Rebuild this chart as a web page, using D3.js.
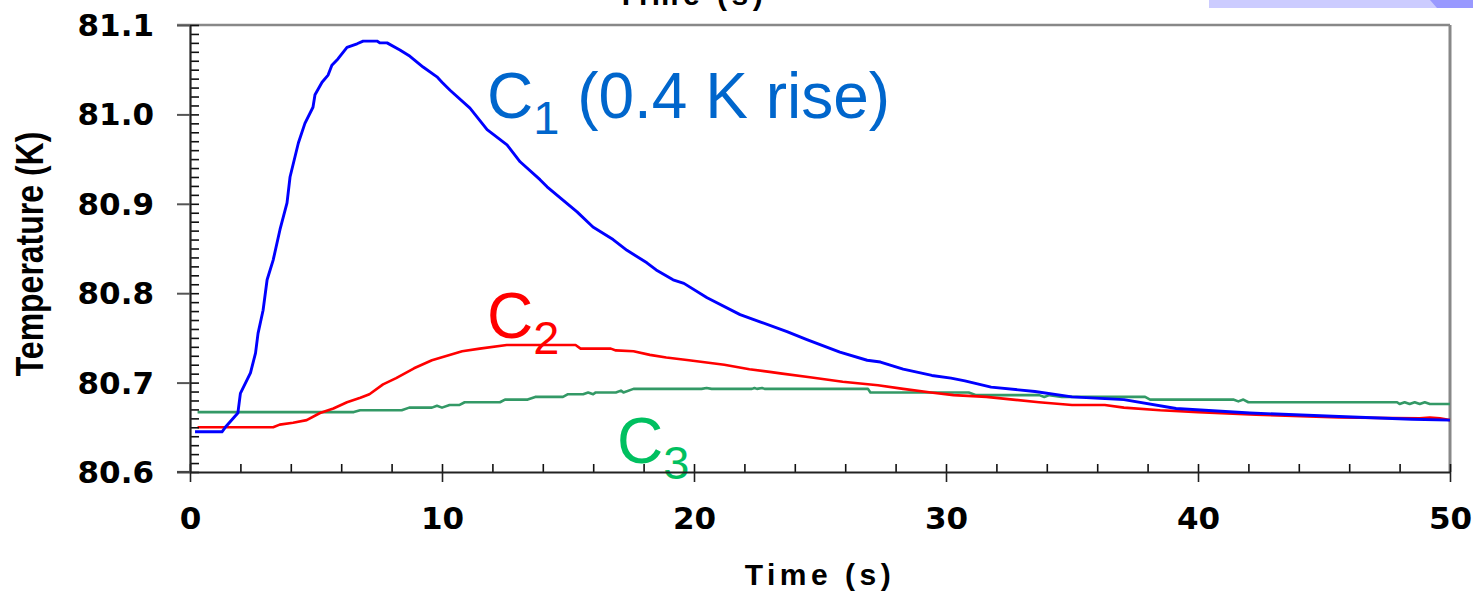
<!DOCTYPE html>
<html>
<head>
<meta charset="utf-8">
<script src="https://cdn.jsdelivr.net/npm/d3@7"></script>
<style>
  body { margin: 0; background: #fff; }
  svg { display: block; }
  text { font-family: "Liberation Sans", Arial, sans-serif; }
</style>
</head>
<body>
<svg id="chart" width="1473" height="592"></svg>
<script>
// values: time (s) and temperature (K)
var c1Time = [0.2, 1.27, 1.4, 1.9, 2.0, 2.4, 2.6, 2.7, 2.9, 3.06, 3.3, 3.57, 3.85, 3.97, 4.3, 4.56, 4.88, 4.96, 5.24, 5.48, 5.63, 5.87, 6.23, 6.63, 6.87, 7.42, 7.54, 7.82, 8.33, 8.73, 9.25, 9.8, 10.0, 10.32, 11.11, 11.79, 12.58, 13.1, 13.89, 14.17, 14.8, 15.36, 15.99, 16.79, 17.34, 18.13, 18.5, 19.17, 19.6, 20.52, 21.83, 22.62, 23.69, 24.48, 25.79, 26.87, 27.4, 28.3, 29.44, 30.2, 30.75, 31.79, 33.53, 35.0, 37.06, 39.13, 42.06, 45.6, 48.5, 50];
var c1Temp = [80.645, 80.645, 80.650, 80.666, 80.688, 80.711, 80.733, 80.755, 80.781, 80.815, 80.837, 80.871, 80.901, 80.930, 80.968, 80.990, 81.008, 81.022, 81.036, 81.044, 81.055, 81.062, 81.075, 81.079, 81.082, 81.082, 81.080, 81.080, 81.072, 81.065, 81.053, 81.042, 81.036, 81.027, 81.007, 80.983, 80.966, 80.947, 80.927, 80.919, 80.904, 80.891, 80.874, 80.860, 80.848, 80.834, 80.826, 80.815, 80.811, 80.795, 80.776, 80.768, 80.757, 80.748, 80.734, 80.725, 80.723, 80.715, 80.708, 80.705, 80.702, 80.695, 80.690, 80.684, 80.681, 80.671, 80.666, 80.662, 80.659, 80.658];

var c2Time = [0.3, 3.3, 3.56, 4.09, 4.63, 5.16, 5.69, 6.23, 6.76, 7.12, 7.66, 8.18, 8.89, 9.6, 10.3, 10.8, 11.5, 12.57, 15.3, 15.5, 16.7, 16.9, 17.6, 18.25, 18.9, 19.8, 21.2, 22.2, 23.0, 23.5, 24.6, 25.9, 27.3, 28.3, 29.4, 30.3, 31.6, 32.66, 33.69, 35.0, 36.3, 37.06, 38.5, 40.0, 42.3, 45.6, 48.8, 49.2, 49.6, 50];
var c2Temp = [80.650, 80.650, 80.653, 80.655, 80.658, 80.666, 80.671, 80.678, 80.683, 80.687, 80.698, 80.705, 80.716, 80.725, 80.731, 80.735, 80.738, 80.742, 80.742, 80.738, 80.738, 80.736, 80.735, 80.731, 80.728, 80.725, 80.720, 80.715, 80.712, 80.710, 80.706, 80.701, 80.697, 80.693, 80.689, 80.686, 80.684, 80.681, 80.678, 80.675, 80.675, 80.672, 80.669, 80.667, 80.664, 80.661, 80.660, 80.661, 80.660, 80.658];

var c3Time = [0.3, 6.5, 6.75, 8.4, 8.7, 9.6, 9.8, 10.0, 10.3, 10.7, 10.9, 12.3, 12.5, 13.4, 13.7, 14.8, 15.0, 15.6, 15.8, 16.0, 16.1, 16.9, 17.1, 17.2, 17.6, 20.3, 20.5, 20.7, 22.3, 22.4, 22.5, 22.7, 22.8, 26.9, 27.0, 30.9, 31.2, 33.7, 33.9, 34.1, 34.6, 37.9, 38.1, 41.4, 41.6, 41.8, 42.0, 47.9, 48.0, 48.2, 48.4, 48.6, 48.8, 49.0, 49.2, 50];
var c3Temp = [80.667, 80.667, 80.669, 80.669, 80.672, 80.672, 80.674, 80.672, 80.675, 80.675, 80.678, 80.678, 80.681, 80.681, 80.684, 80.684, 80.687, 80.687, 80.689, 80.687, 80.689, 80.689, 80.691, 80.689, 80.693, 80.693, 80.694, 80.693, 80.693, 80.694, 80.693, 80.694, 80.693, 80.693, 80.689, 80.689, 80.686, 80.686, 80.684, 80.686, 80.684, 80.684, 80.681, 80.681, 80.679, 80.681, 80.678, 80.678, 80.676, 80.678, 80.676, 80.678, 80.676, 80.678, 80.676, 80.676];

var xTicks = [0, 10, 20, 30, 40, 50];
var yTicks = [80.6, 80.7, 80.8, 80.9, 81.0, 81.1];

var svg = d3.select("#chart");
var x = d3.scaleLinear().domain([0, 50]).range([190, 1450]);
var y = d3.scaleLinear().domain([80.6, 81.1]).range([472, 25]);

// bits of the slide above the chart (cut off at the top, as in the source)
svg.append("rect").attr("x", 1209).attr("y", 0).attr("width", 264).attr("height", 8).attr("fill", "#ccccff");
svg.append("path").attr("d", "M1430,0 L1473,0 L1473,8 L1437,8 Z").attr("fill", "#9999ff");
svg.append("text").attr("x", 692).attr("y", 5).attr("text-anchor", "middle")
    .style("font-size", "30px").style("font-weight", "bold").style("letter-spacing", "4.5px")
    .text("Time (s)");

// frame (top and right)
svg.append("line").attr("x1", 177).attr("x2", 1450).attr("y1", 25).attr("y2", 25)
    .attr("stroke", "#888").attr("stroke-width", 2.5);
svg.append("line").attr("x1", 1450).attr("x2", 1450).attr("y1", 25).attr("y2", 472)
    .attr("stroke", "#888").attr("stroke-width", 3);

// labels on the curves
function label(txt, sub, tail, lx, ly, color) {
    var t = svg.append("text").attr("x", lx).attr("y", ly)
        .attr("fill", color).style("font-size", "64px").style("white-space", "pre");
    t.append("tspan").text(txt);
    t.append("tspan").attr("dy", 16).style("font-size", "47px").text(sub);
    if (tail) t.append("tspan").attr("dy", -16).style("font-size", "64px").text(tail);
}
label("C", "1", " (0.4 K rise)", 487, 118, "#0066cc");
label("C", "2", null, 487, 338, "#ff0000");
label("C", "3", null, 617, 463, "#00c060");

// curves
var line = d3.line().x(function(d) { return x(d[0]); }).y(function(d) { return y(d[1]); });
var series = [
    {time: c3Time, temp: c3Temp, color: "#339966", w: 2.6},
    {time: c2Time, temp: c2Temp, color: "#ff0000", w: 2.6},
    {time: c1Time, temp: c1Temp, color: "#0000ff", w: 2.9}
];
series.forEach(function(s) {
    svg.append("path").datum(d3.zip(s.time, s.temp))
        .attr("d", line).attr("fill", "none")
        .attr("stroke", s.color).attr("stroke-width", s.w)
        .attr("stroke-linejoin", "round");
});

// minor ticks, pointing into the plot
var yMinor = d3.range(80.6, 81.1001, 0.01);
var xMinor = d3.range(0, 50.001, 2);
svg.append("g").attr("transform", "translate(190,0)")
    .call(d3.axisRight(y).tickValues(yMinor).tickSize(9).tickFormat(""))
    .call(function(g) { g.select(".domain").remove(); g.selectAll("line").attr("stroke", "#111").attr("stroke-width", 1.6); });
svg.append("g").attr("transform", "translate(0,472)")
    .call(d3.axisTop(x).tickValues(xMinor).tickSize(8).tickFormat(""))
    .call(function(g) { g.select(".domain").remove(); g.selectAll("line").attr("stroke", "#111").attr("stroke-width", 1.6); });

// major ticks and labels
var yAxis = svg.append("g").attr("transform", "translate(190,0)")
    .call(d3.axisLeft(y).tickValues(yTicks).tickSize(13).tickSizeOuter(0).tickPadding(23).tickFormat(d3.format(".1f")));
yAxis.select(".domain").attr("stroke", "#222").attr("stroke-width", 2.2);
yAxis.selectAll(".tick line").attr("stroke", "#555").attr("stroke-width", 2);
yAxis.selectAll("text").attr("dy", "0.34em")
    .style("font-family", "'DejaVu Sans', sans-serif").style("font-weight", "bold").style("font-size", "31px").attr("fill", "#000");

var xAxis = svg.append("g").attr("transform", "translate(0,472)")
    .call(d3.axisBottom(x).tickValues(xTicks).tickSize(10).tickSizeOuter(0).tickPadding(25).tickFormat(d3.format("d")));
xAxis.select(".domain").attr("stroke", "#222").attr("stroke-width", 2.2);
xAxis.selectAll(".tick line").attr("stroke", "#222").attr("stroke-width", 1.6);
xAxis.selectAll("text")
    .style("font-family", "'DejaVu Sans', sans-serif").style("font-weight", "bold").style("font-size", "31px").attr("fill", "#000");
svg.append("line").attr("x1", 177).attr("x2", 190).attr("y1", 472).attr("y2", 472)
    .attr("stroke", "#444").attr("stroke-width", 2.2);

// axis titles
svg.append("text").attr("x", 820).attr("y", 585).attr("text-anchor", "middle")
    .style("font-size", "30px").style("font-weight", "bold").style("letter-spacing", "4.5px")
    .text("Time (s)");
svg.append("text").attr("transform", "translate(43,254) rotate(-90) scale(0.82,1)")
    .attr("text-anchor", "middle")
    .style("font-size", "39px").style("font-weight", "bold")
    .text("Temperature (K)");
</script>
</body>
</html>
